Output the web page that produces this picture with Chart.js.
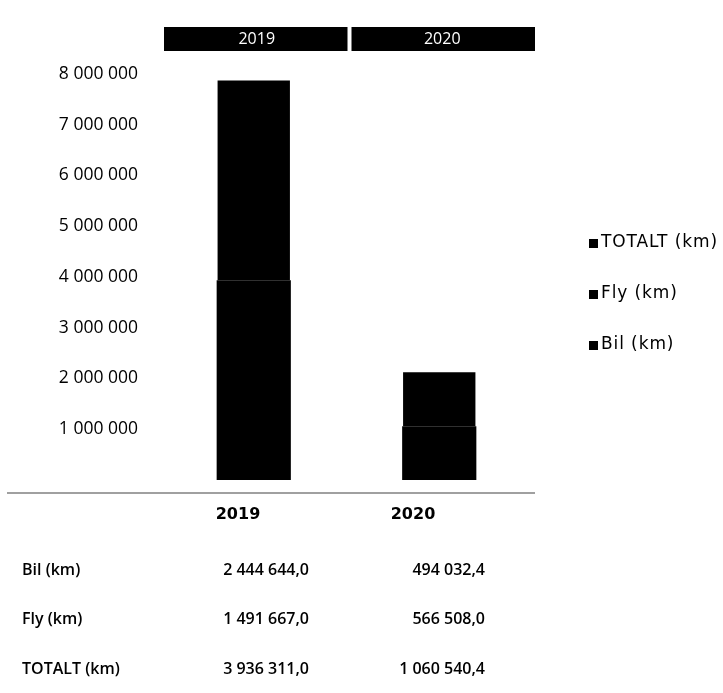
<!DOCTYPE html>
<html>
<head>
<meta charset="utf-8">
<script src="https://cdn.jsdelivr.net/npm/chart.js@4"></script>
<style>
  html, body { margin: 0; padding: 0; background: #fff; }
  #wrap { width: 723px; height: 693px; position: relative; }
</style>
</head>
<body>
<div id="wrap"><canvas id="travelChart"></canvas></div>
<script>
/* ---------- data ---------- */
const categories = ["2019", "2020"];
const bilKm = [2444644.0, 494032.4];
const flyKm = [1491667.0, 566508.0];
const totaltKm = [3936311.0, 1060540.4];
const seriesNames = ["Bil (km)", "Fly (km)", "TOTALT (km)"];
const yMax = 8000000;
const yStep = 1000000;

/* ---------- layout ---------- */
const TICK_FONT = "'Open Sans', sans-serif";
const GOTHIC_FONT = "'DejaVu Sans', sans-serif";
const boxShift = 3;           // header boxes sit a little right of the bars
const tableTop = 493;
const headerY = 515;
const rowY = [570, 619, 669];
const headerX = [238, 413];
const valueRight = [309, 485];
const legendX = 589;
const legendY = [243, 294, 345];

function spaced(n) {
  return String(n).replace(/\B(?=(\d{3})+(?!\d))/g, " ");
}

function tableValue(n) {
  const parts = n.toFixed(1).split(".");
  return spaced(parts[0]) + "," + parts[1];
}

// header boxes above the bars, data table below, legend on the right
const decorations = {
  id: "decorations",
  afterDraw(chart) {
    const ctx = chart.ctx;
    const x = chart.scales.x;
    const area = chart.chartArea;
    const band = (area.right - area.left) / categories.length;

    ctx.save();

    // category header boxes
    categories.forEach((c, i) => {
      const cx = x.getPixelForValue(i) + boxShift;
      const l = cx - band / 2 + (i === 0 ? 0 : 2);
      const r = cx + band / 2 - (i === 0 ? 2 : 0);
      ctx.fillStyle = "#000";
      ctx.fillRect(l, 27, r - l, 24);
      ctx.fillStyle = "#fff";
      ctx.font = "16px " + TICK_FONT;
      ctx.textAlign = "center";
      ctx.textBaseline = "middle";
      ctx.fillText(c, cx, 39);
    });

    // table rule
    ctx.strokeStyle = "#808080";
    ctx.lineWidth = 1.5;
    ctx.beginPath();
    ctx.moveTo(7, tableTop);
    ctx.lineTo(area.right + boxShift, tableTop);
    ctx.stroke();

    // table header
    ctx.fillStyle = "#000";
    ctx.font = "bold 16px " + GOTHIC_FONT;
    ctx.textAlign = "center";
    ctx.textBaseline = "middle";
    categories.forEach((c, i) => ctx.fillText(c, headerX[i], headerY));

    // table rows
    const rows = [bilKm, flyKm, totaltKm];
    rows.forEach((vals, r) => {
      ctx.font = "600 16px " + TICK_FONT;
      ctx.textAlign = "left";
      ctx.fillText(seriesNames[r], 22, rowY[r]);
      ctx.textAlign = "right";
      vals.forEach((v, i) => ctx.fillText(tableValue(v), valueRight[i], rowY[r]));
    });

    // legend (top item is the top of the stack)
    ctx.font = "17px " + GOTHIC_FONT;
    ctx.letterSpacing = "0.9px";
    ctx.textAlign = "left";
    const order = [2, 1, 0];
    order.forEach((s, k) => {
      const y = legendY[k];
      ctx.fillStyle = "#000";
      ctx.fillRect(legendX, y - 4, 9, 9);
      ctx.fillText(seriesNames[s], legendX + 12, y);
    });

    ctx.restore();
  }
};

const ctx = document.getElementById("travelChart");

new Chart(ctx, {
  type: "bar",
  data: {
    labels: categories,
    datasets: [
      { label: seriesNames[0], data: bilKm, backgroundColor: "#000", barPercentage: 0.4 },
      { label: seriesNames[1], data: flyKm, backgroundColor: "#000", barPercentage: 0.4 },
      { label: seriesNames[2], data: totaltKm, backgroundColor: "#000", barPercentage: 0.39 }
    ]
  },
  options: {
    responsive: true,
    maintainAspectRatio: false,
    animation: false,
    devicePixelRatio: 1,
    layout: { padding: { top: 74, bottom: 213, right: 191, left: 0 } },
    plugins: {
      legend: { display: false },
      tooltip: { enabled: false }
    },
    datasets: {
      bar: { categoryPercentage: 1, borderWidth: 0 }
    },
    scales: {
      x: {
        display: false,
        stacked: true
      },
      y: {
        stacked: true,
        min: 0,
        max: yMax,
        grid: { display: false, drawTicks: false },
        border: { display: false },
        afterFit(scale) { scale.width = 161; },
        ticks: {
          stepSize: yStep,
          padding: 23,
          color: "#000",
          font: { family: TICK_FONT, size: 17.5 },
          callback: v => (v === 0 ? null : spaced(v))
        }
      }
    }
  },
  plugins: [decorations]
});
</script>
</body>
</html>
